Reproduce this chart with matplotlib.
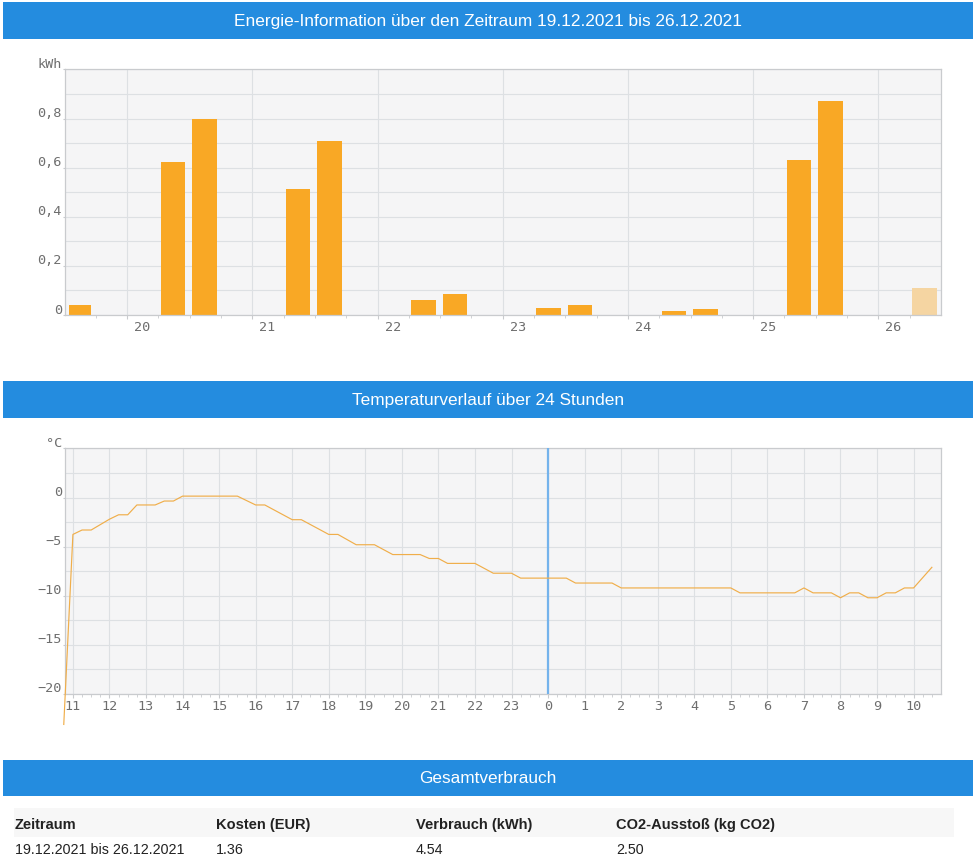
import matplotlib
matplotlib.use("Agg")
import matplotlib.pyplot as plt
from matplotlib.patches import Rectangle
from matplotlib.transforms import ScaledTranslation

W, H = 977, 863

# energy bars
bar_days = [19.625, 20.367, 20.618, 21.367, 21.618, 22.367, 22.618,
            23.367, 23.618, 24.367, 24.618, 25.367, 25.618, 26.367]
bar_kwh = [0.04, 0.625, 0.80, 0.515, 0.71, 0.06, 0.085,
           0.03, 0.04, 0.015, 0.025, 0.63, 0.872, 0.11]
day_ticks = [20, 21, 22, 23, 24, 25, 26]
kwh_ticks = [0, 0.2, 0.4, 0.6, 0.8, 1.0]
kwh_labels = ["0", "0,2", "0,4", "0,6", "0,8", "kWh"]

# temperature, hours counted on from the first day
temp_hours = [10.75, 11, 11.25, 11.5, 12, 12.25, 12.5, 12.75, 13.25, 13.5, 13.75,
              14, 15.5, 16, 16.25, 17, 17.25, 18, 18.25, 18.75, 19.25, 19.75,
              20.5, 20.75, 21, 21.25, 22, 22.5, 23, 23.25, 24.5, 24.75, 25.75,
              26, 29, 29.25, 30.75, 31, 31.25, 31.75, 32, 32.25, 32.5, 32.75,
              33, 33.25, 33.5, 33.75, 34, 34.5]
temp_vals = [-23.1, -3.75, -3.3, -3.3, -2.2, -1.75, -1.75, -0.75, -0.75, -0.35, -0.35,
             0.15, 0.15, -0.75, -0.75, -2.25, -2.25, -3.75, -3.75, -4.8, -4.8, -5.8,
             -5.8, -6.2, -6.2, -6.7, -6.7, -7.7, -7.7, -8.2, -8.2, -8.7, -8.7,
             -9.2, -9.2, -9.7, -9.7, -9.2, -9.7, -9.7, -10.2, -9.7, -9.7, -10.2,
             -10.2, -9.7, -9.7, -9.2, -9.2, -7.1]
hour_ticks = list(range(11, 35))
hour_labels = [str(h % 24) for h in hour_ticks]
temp_ticks = [-20, -15, -10, -5, 0, 5]
temp_labels = ["\u221220", "\u221215", "\u221210", "\u22125", "0", "\u00b0C"]

headers = ["Energie-Information über den Zeitraum 19.12.2021 bis 26.12.2021",
           "Temperaturverlauf über 24 Stunden",
           "Gesamtverbrauch"]
table_head = ["Zeitraum", "Kosten (EUR)", "Verbrauch (kWh)", "CO2-Ausstoß (kg CO2)"]
table_row = ["19.12.2021 bis 26.12.2021", "1.36", "4.54", "2.50"]

BLUE = "#248CDF"
ORANGE = "#F9A825"
PALE = "#F5D5A2"
GRID = "#DDE0E3"
EDGE = "#C9CBCE"
TICKTXT = "#6E6E6E"


def px_axes(fig, left, top, right, bottom):
    return fig.add_axes([left / W, 1 - bottom / H, (right - left) / W, (bottom - top) / H])


def box(fig, left, top, right, bottom, color):
    fig.add_artist(Rectangle((left / W, 1 - bottom / H), (right - left) / W, (bottom - top) / H,
                             transform=fig.transFigure, facecolor=color, edgecolor="none"))


def style_axes(ax):
    ax.set_facecolor("#F5F5F6")
    ax.set_axisbelow(True)
    ax.grid(True, which="major", color=GRID, linewidth=0.8)
    for s in ax.spines.values():
        s.set_color(EDGE)
        s.set_linewidth(0.9)
    ax.tick_params(axis="x", which="major", length=3, color=EDGE, pad=1.5,
                   labelsize=9.7, labelcolor=TICKTXT)
    ax.tick_params(axis="x", which="minor", length=2.5, color=EDGE)
    ax.tick_params(axis="y", which="major", length=1.5, color=EDGE, pad=0.3,
                   labelsize=9.7, labelcolor=TICKTXT)
    for lab in ax.get_xticklabels() + ax.get_yticklabels():
        lab.set_fontfamily("DejaVu Sans Mono")
    # value labels sit just above their grid line
    down = ScaledTranslation(0, -1.5 / 100, fig.dpi_scale_trans)
    for lab in ax.get_yticklabels():
        lab.set_va("bottom")
        lab.set_transform(lab.get_transform() + down)


fig = plt.figure(figsize=(W / 100, H / 100), dpi=100, facecolor="white")

# section bands
for (top, bottom), title in zip([(2, 39), (381, 418), (760, 796)], headers):
    box(fig, 3, top, 973, bottom, BLUE)
    fig.text(488 / W, 1 - ((top + bottom) / 2 - 0.7) / H, title, color="white", ha="center",
             va="center_baseline", fontsize=12.42, family="Liberation Sans")

# energy chart
ax1 = px_axes(fig, 64.5, 69.5, 941, 315)
colors = [ORANGE] * (len(bar_days) - 1) + [PALE]
widths = [0.178] + [0.195] * (len(bar_days) - 1)
ax1.bar(bar_days, bar_kwh, width=widths, color=colors, linewidth=0)
ax1.set_xlim(19.5, 26.5)
ax1.set_ylim(0, 1.0)
ax1.set_xticks(day_ticks)
ax1.set_xticklabels([str(d) for d in day_ticks], ha="left")
ax1.set_xticks([d / 4 for d in range(79, 106) if d % 4 != 0], minor=True)
ax1.set_yticks(kwh_ticks)
ax1.set_yticklabels(kwh_labels)
ax1.set_yticks([0.1, 0.3, 0.5, 0.7, 0.9], minor=True)
ax1.grid(True, which="minor", axis="y", color=GRID, linewidth=0.8)
ax1.tick_params(axis="y", which="minor", length=0)
style_axes(ax1)
# the day labels sit to the right of their tick
shift = ScaledTranslation(7 / 100, 0, fig.dpi_scale_trans)
for lab in ax1.get_xticklabels():
    lab.set_transform(lab.get_transform() + shift)

# temperature chart
ax2 = px_axes(fig, 64.5, 448.5, 941, 694)
ax2.plot(temp_hours, temp_vals, color="#F0AE4A", linewidth=0.85, clip_on=False, zorder=4)
ax2.axvline(24, color="#74B3EC", linewidth=1.6, zorder=3)
ax2.set_xlim(10.77, 34.75)
ax2.set_ylim(-20, 5)
ax2.set_xticks(hour_ticks)
ax2.set_xticklabels(hour_labels)
ax2.set_xticks([h / 4 for h in range(44, 139) if h % 4 != 0], minor=True)
ax2.set_yticks(temp_ticks)
ax2.set_yticklabels(temp_labels)
ax2.set_yticks([-17.5, -12.5, -7.5, -2.5, 2.5], minor=True)
ax2.grid(True, which="minor", axis="y", color=GRID, linewidth=0.8)
ax2.tick_params(axis="y", which="minor", length=0)
style_axes(ax2)

# totals table
box(fig, 14, 808, 954, 837, "#F7F7F7")
for x, head, cell in zip([15, 216, 416, 616], table_head, table_row):
    fig.text(x / W, 1 - 823 / H, head, fontsize=10.5, fontweight="bold", color="#222222",
             va="center_baseline", family="Liberation Sans")
    fig.text(x / W, 1 - 848 / H, cell, fontsize=10.3, color="#222222",
             va="center_baseline", family="Liberation Sans")

fig.savefig("out.png", dpi=100)
